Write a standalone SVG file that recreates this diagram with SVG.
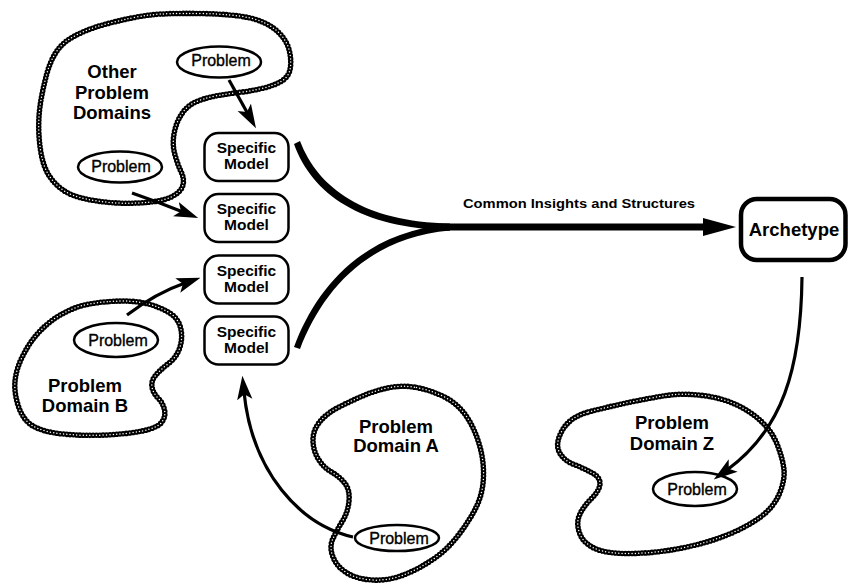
<svg xmlns="http://www.w3.org/2000/svg" width="850" height="585" viewBox="0 0 850 585">
<style>
.bb{fill:none;stroke:#000;stroke-width:5.6;stroke-dasharray:0 3.3;stroke-linecap:round;stroke-linejoin:round}
.bw{fill:none;stroke:#fff;stroke-width:1.5;stroke-dasharray:0 3.3;stroke-linecap:round}
.lbl{font-family:"Liberation Sans",Arial,sans-serif;font-weight:bold;font-size:18.5px;text-anchor:middle;fill:#000}
.sm{fill:#fff;stroke:#000;stroke-width:2.5}
.smt{font-family:"Liberation Sans",Arial,sans-serif;font-weight:bold;font-size:15.5px;text-anchor:middle;fill:#000}
.pe{fill:#fff;stroke:#000;stroke-width:2.5}
.pt{font-family:"Liberation Sans",Arial,sans-serif;font-size:16px;text-anchor:middle;fill:#000;stroke:#000;stroke-width:0.35}
.ar{fill:none;stroke:#000;stroke-width:3.2}
</style>
<defs>
<marker id="ah" markerUnits="userSpaceOnUse" markerWidth="24" markerHeight="16" viewBox="0 0 22 14" refX="7" refY="7" orient="auto">
<path d="M0,0 L22,7 L0,14 L5,7 Z" fill="#000"/>
</marker>
</defs>

<g id="domain-other">
<path id="blob-other" class="bb" d="M46.5,75 Q53,50 68,40 Q83,30 108,23.5 Q133,17 150,15 Q167,13 200,13.5 Q233,14 250,18 Q267,22 277,31 Q287,40 289.5,51.5 Q292,63 289.5,71.5 Q287,80 273.5,85 Q260,90 238.5,92.5 Q217,95 203.5,99 Q190,103 183.5,111.5 Q177,120 174.5,131.5 Q172,143 174.5,153 Q177,163 181,171.5 Q185,180 182.5,186.5 Q180,193 170,197.5 Q160,202 138.5,203 Q117,204 97,201 Q77,198 67,192.5 Q57,187 50,177 Q43,167 40.5,150 Q38,133 39,116.5 Q40,100 46.5,75 Z"/>
<path class="bw" d="M46.5,75 Q53,50 68,40 Q83,30 108,23.5 Q133,17 150,15 Q167,13 200,13.5 Q233,14 250,18 Q267,22 277,31 Q287,40 289.5,51.5 Q292,63 289.5,71.5 Q287,80 273.5,85 Q260,90 238.5,92.5 Q217,95 203.5,99 Q190,103 183.5,111.5 Q177,120 174.5,131.5 Q172,143 174.5,153 Q177,163 181,171.5 Q185,180 182.5,186.5 Q180,193 170,197.5 Q160,202 138.5,203 Q117,204 97,201 Q77,198 67,192.5 Q57,187 50,177 Q43,167 40.5,150 Q38,133 39,116.5 Q40,100 46.5,75 Z"/>
<text class="lbl" x="112" y="78">Other</text>
<text class="lbl" x="112" y="99">Problem</text>
<text class="lbl" x="112" y="119">Domains</text>
</g>

<g id="domain-b">
<path class="bb" d="M110,301.5 Q133,300 146.5,303.5 Q160,307 169,312.5 Q178,318 180.5,327.5 Q183,337 180,347 Q177,357 168.5,363.5 Q160,370 155.5,375.5 Q151,381 152,387 Q153,393 158,398 Q163,403 164.5,410 Q166,417 161.5,422.5 Q157,428 142,431 Q127,434 105,435 Q83,436 63,434 Q43,432 33,426 Q23,420 18.5,406.5 Q14,393 15,381.5 Q16,370 21.5,358.5 Q27,347 33.5,338.5 Q40,330 50,322 Q60,314 73.5,308.5 Q87,303 110,301.5 Z"/>
<path class="bw" d="M110,301.5 Q133,300 146.5,303.5 Q160,307 169,312.5 Q178,318 180.5,327.5 Q183,337 180,347 Q177,357 168.5,363.5 Q160,370 155.5,375.5 Q151,381 152,387 Q153,393 158,398 Q163,403 164.5,410 Q166,417 161.5,422.5 Q157,428 142,431 Q127,434 105,435 Q83,436 63,434 Q43,432 33,426 Q23,420 18.5,406.5 Q14,393 15,381.5 Q16,370 21.5,358.5 Q27,347 33.5,338.5 Q40,330 50,322 Q60,314 73.5,308.5 Q87,303 110,301.5 Z"/>
<text class="lbl" x="85" y="392">Problem</text>
<text class="lbl" x="85" y="412">Domain B</text>
</g>

<g id="domain-a">
<path class="bb" d="M416.5,387.5 Q430,390 443.5,396.5 Q457,403 465.5,415 Q474,427 479,443.5 Q484,460 483.5,476.5 Q483,493 476.5,506.5 Q470,520 458.5,535 Q447,550 432,560 Q417,570 402,575.5 Q387,581 372,580 Q357,579 347,573 Q337,567 333,557 Q329,547 333,538.5 Q337,530 342.5,521 Q348,512 349,501 Q350,490 345,483.5 Q340,477 331.5,472 Q323,467 318,458.5 Q313,450 313,440 Q313,430 320,421.5 Q327,413 340,406.5 Q353,400 365,395 Q377,390 390,387.5 Q403,385 416.5,387.5 Z"/>
<path class="bw" d="M416.5,387.5 Q430,390 443.5,396.5 Q457,403 465.5,415 Q474,427 479,443.5 Q484,460 483.5,476.5 Q483,493 476.5,506.5 Q470,520 458.5,535 Q447,550 432,560 Q417,570 402,575.5 Q387,581 372,580 Q357,579 347,573 Q337,567 333,557 Q329,547 333,538.5 Q337,530 342.5,521 Q348,512 349,501 Q350,490 345,483.5 Q340,477 331.5,472 Q323,467 318,458.5 Q313,450 313,440 Q313,430 320,421.5 Q327,413 340,406.5 Q353,400 365,395 Q377,390 390,387.5 Q403,385 416.5,387.5 Z"/>
<text class="lbl" x="396" y="433">Problem</text>
<text class="lbl" x="396" y="452">Domain A</text>
</g>

<g id="domain-z">
<path class="bb" d="M588.5,412 Q607,407 628.5,402.5 Q650,398 666.5,395.5 Q683,393 703,395.5 Q723,398 738,405.5 Q753,413 763,423 Q773,433 778,446.5 Q783,460 784,470 Q785,480 779.5,493.5 Q774,507 760.5,517 Q747,527 727,535 Q707,543 682,548 Q657,553 632,553.5 Q607,554 595,548.5 Q583,543 579.5,533 Q576,523 579.5,515 Q583,507 591.5,498.5 Q600,490 600,483.5 Q600,477 591.5,472.5 Q583,468 573,464 Q563,460 559,451.5 Q555,443 562.5,430 Q570,417 588.5,412 Z"/>
<path class="bw" d="M588.5,412 Q607,407 628.5,402.5 Q650,398 666.5,395.5 Q683,393 703,395.5 Q723,398 738,405.5 Q753,413 763,423 Q773,433 778,446.5 Q783,460 784,470 Q785,480 779.5,493.5 Q774,507 760.5,517 Q747,527 727,535 Q707,543 682,548 Q657,553 632,553.5 Q607,554 595,548.5 Q583,543 579.5,533 Q576,523 579.5,515 Q583,507 591.5,498.5 Q600,490 600,483.5 Q600,477 591.5,472.5 Q583,468 573,464 Q563,460 559,451.5 Q555,443 562.5,430 Q570,417 588.5,412 Z"/>
<text class="lbl" x="672" y="429">Problem</text>
<text class="lbl" x="672" y="450">Domain Z</text>
</g>

<g id="problem-other-1"><ellipse class="pe" cx="219" cy="62" rx="42" ry="15.5"/><text class="pt" x="221" y="66">Problem</text></g>
<g id="problem-other-2"><ellipse class="pe" cx="120" cy="167" rx="42" ry="15.5"/><text class="pt" x="121" y="172">Problem</text></g>
<g id="problem-b"><ellipse class="pe" cx="116" cy="340" rx="42" ry="17"/><text class="pt" x="118" y="346">Problem</text></g>
<g id="problem-a"><ellipse class="pe" cx="397" cy="538" rx="42" ry="13"/><text class="pt" x="399" y="544">Problem</text></g>
<g id="problem-z"><ellipse class="pe" cx="695" cy="489" rx="42" ry="17"/><text class="pt" x="697" y="495">Problem</text></g>

<g id="model-1"><rect class="sm" x="204.5" y="133" width="84" height="48" rx="14"/><text class="smt" x="246.5" y="153">Specific</text><text class="smt" x="246.5" y="169">Model</text></g>
<g id="model-2"><rect class="sm" x="204.5" y="194" width="84" height="48" rx="14"/><text class="smt" x="246.5" y="214">Specific</text><text class="smt" x="246.5" y="230">Model</text></g>
<g id="model-3"><rect class="sm" x="204.5" y="255.5" width="84" height="48" rx="14"/><text class="smt" x="246.5" y="275.5">Specific</text><text class="smt" x="246.5" y="291.5">Model</text></g>
<g id="model-4"><rect class="sm" x="204.5" y="316.5" width="84" height="48" rx="14"/><text class="smt" x="246.5" y="336.5">Specific</text><text class="smt" x="246.5" y="352.5">Model</text></g>

<g id="archetype"><rect x="741" y="199" width="104.5" height="61" rx="16" fill="#fff" stroke="#000" stroke-width="4.5"/><text class="lbl" x="794" y="236">Archetype</text></g>

<g id="connectors">
<path class="ar" d="M229,80 L248,114" marker-end="url(#ah)"/>
<path class="ar" d="M132,193 Q158,202 183,212" marker-end="url(#ah)"/>
<path class="ar" d="M127,315 Q156,293 185,283" marker-end="url(#ah)"/>
<path class="ar" d="M353,537 C300,525 252,472 244,392" marker-end="url(#ah)"/>
<path class="ar" d="M802,277 C801,370 782,430 727,470" marker-end="url(#ah)"/>
<path d="M300,141 C318,188 364,222 450,223.5 L450,230.5 C360,228 312,194 294,144 Z" fill="#000"/>
<path d="M294,347 C316,288 362,232 450,224 L450,230.5 C366,238 322,292 300,349 Z" fill="#000"/>
<rect x="440" y="223.5" width="266" height="7" fill="#000"/>
<path d="M703,218 L736,227 L703,236 Z" fill="#000"/>
<text x="463" y="208" textLength="232" lengthAdjust="spacingAndGlyphs" style="font-family:'Liberation Sans',Arial,sans-serif;font-weight:bold;font-size:13.5px;fill:#000">Common Insights and Structures</text>
</g>
</svg>
